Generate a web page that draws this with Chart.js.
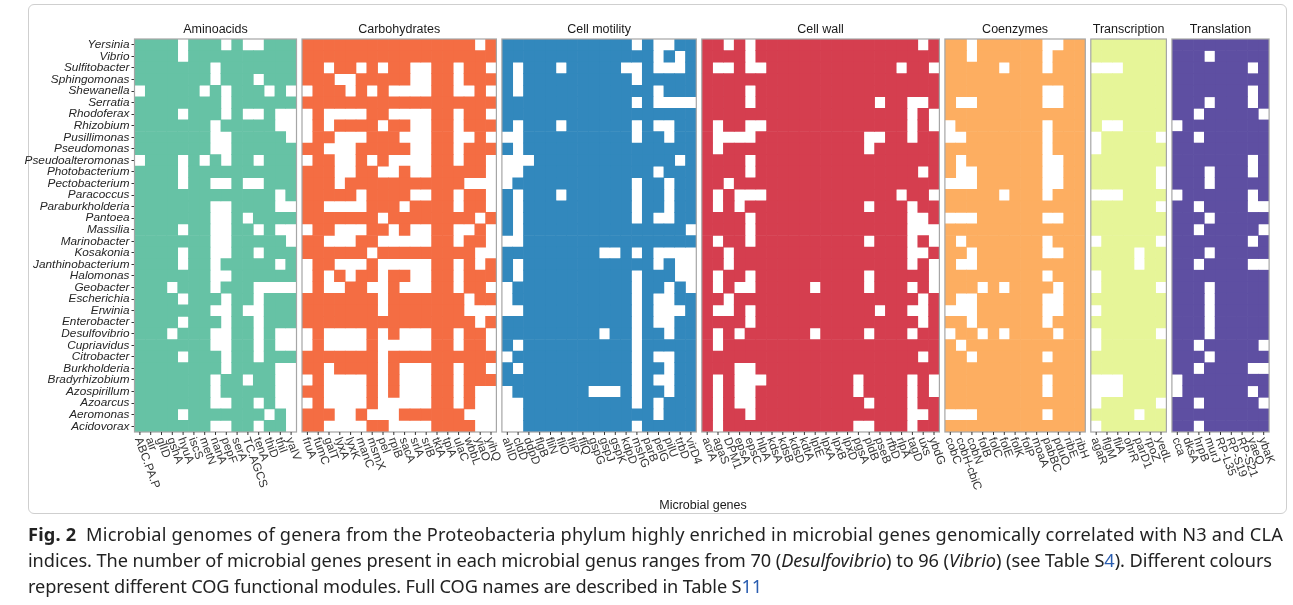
<!DOCTYPE html>
<html>
<head>
<meta charset="utf-8">
<script src="https://cdn.jsdelivr.net/npm/chart.js@4.4.1/dist/chart.umd.min.js"></script>
<style>
  html, body { margin: 0; padding: 0; background: #fff; }
  body { width: 1293px; height: 605px; position: relative; overflow: hidden; font-family: 'Liberation Sans', Arial, sans-serif; }
  .frame { position: absolute; left: 28px; top: 4px; width: 1257px; height: 508px; border: 1px solid #cfcfcf; border-radius: 6px; }
  .layer { position: absolute; left: 0; top: 0; }
  .xtitle { position: absolute; left: 0; width: 1406px; top: 498px; text-align: center; font-size: 12.5px; color: #1a1a1a; }
  .caption { position: absolute; left: 28px; top: 521px; font-family: 'Noto Sans', 'Open Sans', sans-serif; font-size: 18.2px; line-height: 26px; color: #222; white-space: nowrap; }
  .caption div { display: inline-block; clear: both; float: left; }
  .caption b { font-weight: 700; }
  .caption .lnk { color: #2a5db0; }
</style>
</head>
<body>
<div class="frame"></div>
<div id="charts"></div>
<div class="xtitle">Microbial genes</div>
<div class="caption">
  <div data-w="1255"><b>Fig. 2</b>&nbsp; Microbial genomes of genera from the Proteobacteria phylum highly enriched in microbial genes genomically correlated with N3 and CLA</div>
  <div data-w="1244">indices. The number of microbial genes present in each microbial genus ranges from 70 (<i>Desulfovibrio</i>) to 96 (<i>Vibrio</i>) (see Table S<span class="lnk">4</span>). Different colours</div>
  <div data-w="734">represent different COG functional modules. Full COG names are described in Table S<span class="lnk">11</span></div>
</div>
<script>
// rows, top to bottom
const genera = ['Yersinia', 'Vibrio', 'Sulfitobacter', 'Sphingomonas', 'Shewanella', 'Serratia', 'Rhodoferax',
  'Rhizobium', 'Pusillimonas', 'Pseudomonas', 'Pseudoalteromonas', 'Photobacterium', 'Pectobacterium',
  'Paracoccus', 'Paraburkholderia', 'Pantoea', 'Massilia', 'Marinobacter', 'Kosakonia', 'Janthinobacterium',
  'Halomonas', 'Geobacter', 'Escherichia', 'Erwinia', 'Enterobacter', 'Desulfovibrio', 'Cupriavidus',
  'Citrobacter', 'Burkholderia', 'Bradyrhizobium', 'Azospirillum', 'Azoarcus', 'Aeromonas', 'Acidovorax'];

// genes per COG module
const aminoGenes = ['ABC.PA.P', 'air', 'glID', 'gshA', 'hyuA', 'iscS', 'metN', 'nanA', 'pepF', 'serA', 'TC.AGCS', 'tenA', 'thiD', 'thiI', 'yaIV'];
const carbGenes = ['fruA', 'fumC', 'galT', 'lyxA', 'lyxK', 'manC', 'msmX', 'pel', 'rpiB', 'sacA', 'srlA', 'srlB', 'tktA', 'tpiA', 'ulaC', 'wbbL', 'yiaO', 'yihQ'];
const motilityGenes = ['ahlD', 'cldD', 'ddpD', 'flgB', 'fliN', 'fliO', 'fliP', 'fliQ', 'gspG', 'gspJ', 'gspK', 'kdpD', 'mshG', 'parB', 'pelG', 'pilU', 'trbD', 'virD4'];
const wallGenes = ['acrA', 'agaS', 'DPM1', 'epsA', 'epsC', 'hlpA', 'kdsA', 'kdsB', 'kdsD', 'kdtA', 'lptE', 'lpxA', 'lpxB', 'lpxD', 'pgsA', 'pldB', 'pseB', 'rfbD', 'rlpA', 'tagD', 'uxs', 'ybdG'];
const coenzGenes = ['cobC', 'cobH-cbiC', 'cobN', 'folB', 'folC', 'folE', 'folK', 'folP', 'moaA', 'pabBC', 'pduO', 'ribE', 'ribH'];
const transcGenes = ['agaR', 'flgM', 'fliA', 'ohrR', 'parD1', 'rpoZ', 'yedL'];
const translGenes = ['cca', 'dksA', 'hrpB', 'murJ', 'RP-L35', 'RP-S19', 'RP-S21', 'yaeQ', 'ybaK'];

// absent genes (column index) for each genus, same order as genera
const aminoMissing = [[4,8,10,11],[4],[7],[7,11],[0,6,8,12,14],[8],[4,8,10,11,13,14],[7,13,14],[7,8,14],[7,8],
  [0,4,6,8,11],[4],[4,7,8,10,11],[13],[7,8,13,14],[7,8,10],[4,7,8,11,13,14],[7,8,14],[4,7,8,11],[4,7,13],
  [7,8],[3,7,11,12,13,14],[4,8,11],[7,8,10,11],[4,8,11],[3,7,8,11,13,14],[7,8,11,13,14],[4,8,11],[8,13,14],
  [7,10,13,14],[7,13,14],[7,8,11,13,14],[4,12,14],[7,8,11,14]];
const carbMissing = [[16],[],[2,5,7,10,11,14,17],[3,4,10,11,14],[0,4,6,8,9,10,11,14,15,17],[],
  [0,2,3,4,5,8,9,10,11,14,17],[0,2,7,10,11,14],[0,3,4,5,9,10,11,14,15,17],[2,3,4,10,11,14],
  [0,3,4,6,8,9,10,11,14,17],[3,4,7,8,10,11,17],[3,15,16,17],[5,10,11,14,17],[2,3,4,5,9,14,17],[7,16],
  [0,3,4,5,8,10,11,14,15,17],[2,3,4,7,8,9,10,11,14,17],[6,16,17],[0,3,4,5,7,8,9,10,11,14,16],
  [0,2,4,7,10,11,14],[0,2,3,6,7,9,10,11,14,17],[7,15],[7,15,16,17],[16],[0,2,3,4,5,7,9,10,11,14,17],
  [0,2,3,4,5,7,8,9,10,11,14,17],[7],[2,7,9,10,11,14,17],[0,2,3,4,5,7,9,10,11,14],
  [2,3,4,5,7,9,10,11,14,16,17],[0,2,3,4,5,7,8,9,10,11,14,16,17],[3,4,6,7,8,15,16,17],[2,3,4,5,8,9,10,11,16,17]];
const motilityMissing = [[12,14,15],[14,16],[1,5,11,12,14,15,16],[1,12],[1,14],[12,14,15,16,17],[],
  [1,5,12,14,15],[0,1,12,15],[1],[0,1,2,16],[0,1,14],[0,12,15],[1,5,12,15],[1,12,15],[1,12,14,15],[1,17],
  [0,1],[9,10,12,14,15,16,17],[1,14,16,17],[1,12,16,17],[0,12,15,17],[0,12,14,15],[0,1,12,14,15,16],
  [12,14,15],[9,12,15],[1,12],[0,12,14,15],[1,12,15],[12,14,15],[0,8,9,10,12,15],[0,1,12,14],[0,1,14],[0,1,12]];
const wallMissing = [[2,4,20],[4],[1,2,4,5,18,21],[],[4],[4,16,19,20],[19,21],[1,4,5,19,21],[1,2,3,4,15,16,19],
  [1,15],[4],[4,20],[2],[1,3,4,5,18,21],[1,3,15,19],[4,19,20],[4,19,20,21],[1,4,15,19,21],[2,19,20],[2,19,21],
  [1,4,15,21],[1,3,4,10,15,19,21],[2,20],[1,2,4,16,19,20],[4,20],[1,3,10,15,19],[1],[20],[3,4],
  [1,3,4,5,14,19,21],[1,3,4,14,19,21],[1,3,4,15,19],[1,4,19,20],[1,14,15,19]];
const coenzMissing = [[2,9,10],[2,9],[5,9],[],[9,10],[1,2,9,10],[],[0,9],[0,1,9],[9],[1,9,10],[1,2,9,10],
  [0,1,2,9,10],[5,9],[],[0,1,2,9,10],[],[1,9],[2,9,10],[1,2],[9],[3,5,10],[1,2,9,10],[0,1,2,9,10],[2,9],
  [0,3,5,10],[1],[2,9],[],[9],[9],[],[0,1,2,9],[]];
const transcMissing = [[],[],[0,1,2],[],[],[],[],[1,2],[0,6],[0],[],[6],[6],[0,1,2],[6],[],[],[0,6],[4],[4],
  [0],[0,6],[],[0],[],[0,6],[0],[],[],[0,1,2],[0,1,2],[0,6],[4],[0]];
const translMissing = [[],[3],[7],[],[7],[3,7],[2,8],[0],[2],[],[7],[3,7],[3],[0,7],[2,7,8],[3],[2,8],[7],[3],
  [2,7,8],[],[3],[3],[3],[3],[3],[2,8],[3],[2,7,8],[0],[0,7],[2,8],[],[2]];

const panels = [
  { title: 'Aminoacids', genes: aminoGenes, missing: aminoMissing, color: '#66c2a5' },
  { title: 'Carbohydrates', genes: carbGenes, missing: carbMissing, color: '#f46d43' },
  { title: 'Cell motility', genes: motilityGenes, missing: motilityMissing, color: '#3288bd' },
  { title: 'Cell wall', genes: wallGenes, missing: wallMissing, color: '#d53e4f' },
  { title: 'Coenzymes', genes: coenzGenes, missing: coenzMissing, color: '#fdae61' },
  { title: 'Transcription', genes: transcGenes, missing: transcMissing, color: '#e6f598' },
  { title: 'Translation', genes: translGenes, missing: translMissing, color: '#5e4fa2' }
];

const W = 1293, H = 520;
const cellW = 10.8, gap = 5.5, firstLeft = 134.5;
const panelTop = 39, panelBottom = 432;

// fit caption lines to the widths they have in the figure (spread over letters)
document.querySelectorAll('.caption div').forEach(d => {
  const target = +d.dataset.w;
  const chars = d.textContent.trim().length;
  const diff = target - d.getBoundingClientRect().width;
  d.style.letterSpacing = (diff / chars) + 'px';
});

// frame, facet title and rotated gene labels
const facetPlugin = {
  id: 'facet',
  afterDraw(chart) {
    const p = chart.config.options.plugins.facet;
    const a = chart.chartArea;
    const ctx = chart.ctx;
    const xs = chart.scales.x;
    ctx.save();
    ctx.strokeStyle = '#a6a6a6';
    ctx.lineWidth = 1.2;
    ctx.strokeRect(a.left, a.top, a.right - a.left, a.bottom - a.top);

    ctx.fillStyle = '#1a1a1a';
    ctx.font = '12.5px "Liberation Sans", Arial, sans-serif';
    ctx.textAlign = 'center';
    ctx.textBaseline = 'middle';
    ctx.fillText(p.title, (a.left + a.right) / 2, a.top - 9);

    ctx.font = '11.8px "Liberation Sans", Arial, sans-serif';
    ctx.fillStyle = '#333';
    ctx.strokeStyle = '#333';
    ctx.lineWidth = 1;
    p.genes.forEach((g, i) => {
      const x = xs.getPixelForValue(i + 0.5);
      ctx.beginPath();
      ctx.moveTo(x, a.bottom);
      ctx.lineTo(x, a.bottom + 3);
      ctx.stroke();
      ctx.save();
      ctx.translate(x - 2, a.bottom + 6);
      ctx.rotate(70 * Math.PI / 180);
      ctx.textAlign = 'left';
      ctx.textBaseline = 'middle';
      ctx.fillText(g, 0, 0);
      ctx.restore();
    });
    ctx.restore();
  }
};

let left = firstLeft;
panels.forEach((p, k) => {
  const right = left + p.genes.length * cellW;
  const canvas = document.createElement('canvas');
  canvas.width = W;
  canvas.height = H;
  canvas.className = 'layer';
  document.getElementById('charts').appendChild(canvas);

  const datasets = p.genes.map((g, c) => ({
    label: g,
    data: genera.map(() => 1),
    backgroundColor: genera.map((name, r) => p.missing[r].includes(c) ? 'rgba(0,0,0,0)' : p.color),
    borderWidth: 0,
    barPercentage: 1,
    categoryPercentage: 1
  }));

  new Chart(canvas, {
    type: 'bar',
    data: { labels: genera, datasets: datasets },
    plugins: [facetPlugin],
    options: {
      indexAxis: 'y',
      responsive: false,
      animation: false,
      layout: {
        padding: { left: k === 0 ? 0 : left, right: W - right, top: panelTop, bottom: H - panelBottom }
      },
      plugins: {
        legend: { display: false },
        tooltip: { enabled: false },
        facet: { title: p.title, genes: p.genes }
      },
      scales: {
        x: { type: 'linear', stacked: true, min: 0, max: p.genes.length, display: false },
        y: {
          type: 'category',
          stacked: true,
          display: k === 0,
          afterFit: (scale) => { scale.width = k === 0 ? firstLeft : 0; },
          border: { display: false },
          grid: { offset: false, drawOnChartArea: false, drawTicks: true, tickLength: 3, color: '#333' },
          ticks: {
            autoSkip: false,
            padding: 2,
            color: '#262626',
            font: { family: '"Liberation Sans", Arial, sans-serif', size: 11.8, style: 'italic' }
          }
        }
      }
    }
  });
  left = right + gap;
});
</script>
</body>
</html>
